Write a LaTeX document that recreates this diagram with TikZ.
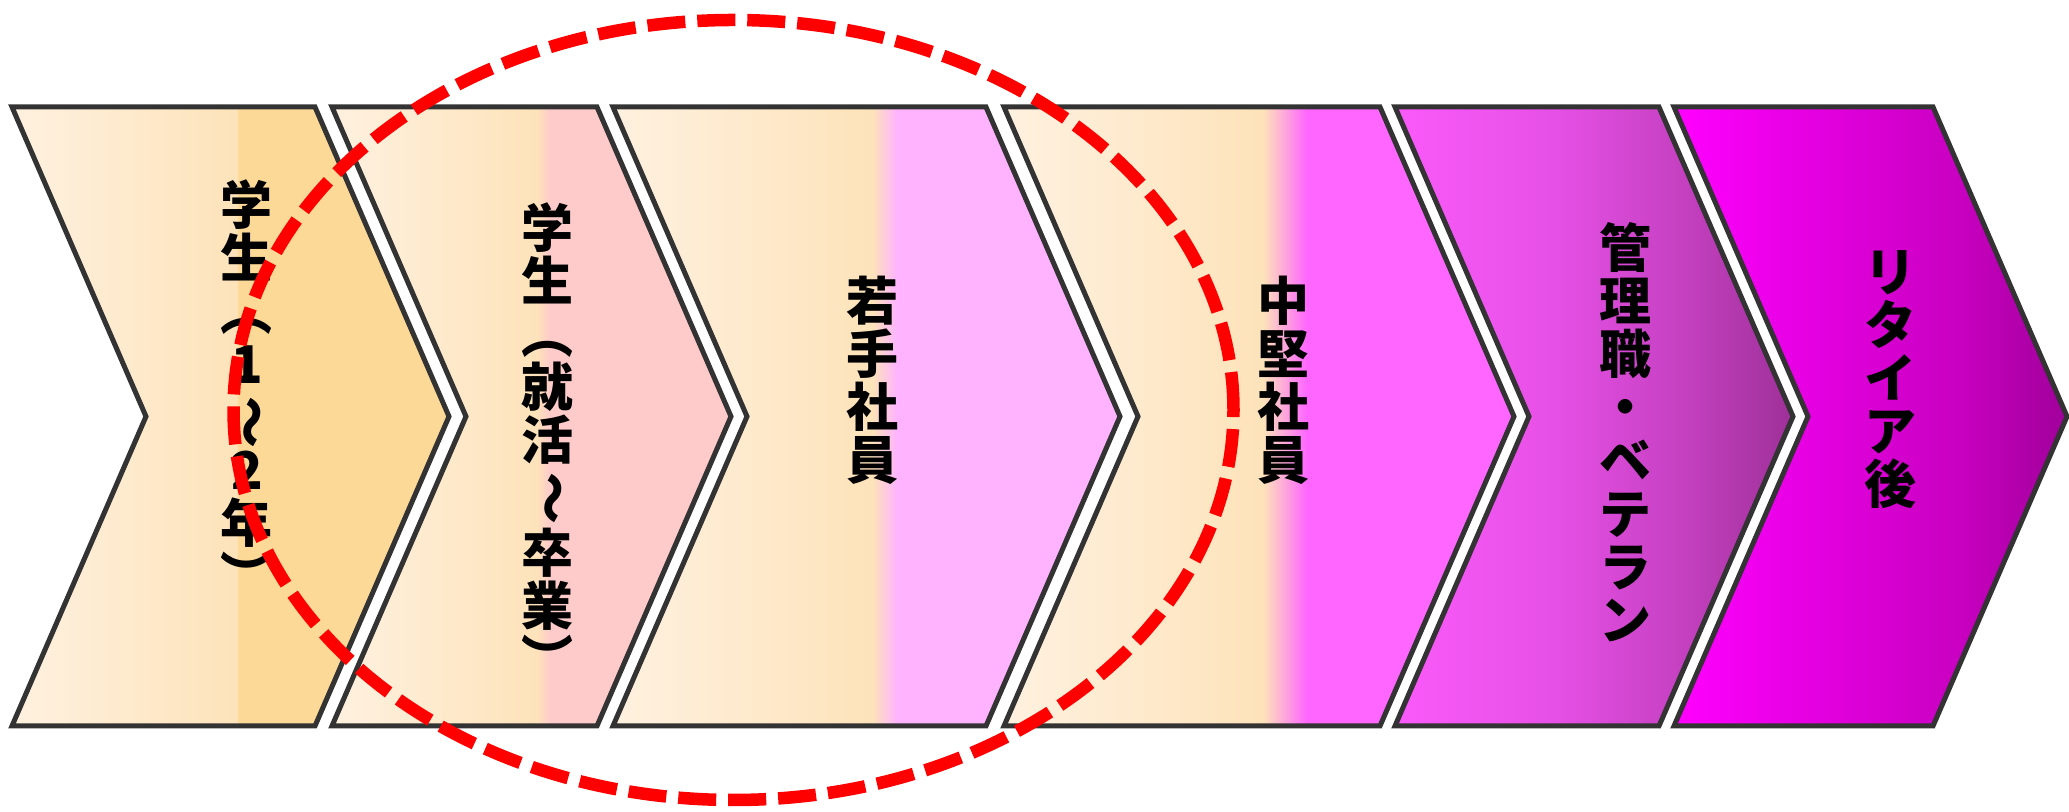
\documentclass[tikz,border=0pt]{standalone}
\usepackage{fontspec}
\newfontfamily\jpfont{Noto Sans CJK JP}
\usepackage{xcolor}
\usepackage{graphicx}
\usepackage{tikz}
\usetikzlibrary{positioning}
\definecolor{chevline}{HTML}{333333}
\definecolor{ovalred}{HTML}{FF0000}
\definecolor{cream}{HTML}{FFF1E0}
\definecolor{apricot}{HTML}{FDE3BA}
\definecolor{peach}{HTML}{FDD997}
\definecolor{rose}{HTML}{FECACA}
\definecolor{lilac}{HTML}{FFB3FF}
\definecolor{orchid}{HTML}{FF66FF}
\definecolor{violetA}{HTML}{FA5AFA}
\definecolor{violetB}{HTML}{E650E6}
\definecolor{violetC}{HTML}{C440C0}
\definecolor{violetD}{HTML}{9E3098}
\definecolor{magA}{HTML}{FF00FF}
\definecolor{magB}{HTML}{C800C0}
\definecolor{magC}{HTML}{A0009A}
\pgfdeclarehorizontalshading{shA}{100bp}{color(0bp)=(cream); color(25bp)=(cream); color(50.7bp)=(apricot); color(50.9bp)=(peach); color(100bp)=(peach)}
\pgfdeclarehorizontalshading{shB}{100bp}{color(0bp)=(cream); color(25bp)=(cream); color(50.7bp)=(apricot); color(52.3bp)=(rose); color(100bp)=(rose)}
\pgfdeclarehorizontalshading{shC}{100bp}{color(0bp)=(cream); color(25bp)=(cream); color(50.6bp)=(apricot); color(53bp)=(lilac); color(100bp)=(lilac)}
\pgfdeclarehorizontalshading{shD}{100bp}{color(0bp)=(cream); color(25bp)=(cream); color(50.4bp)=(apricot); color(54.7bp)=(orchid); color(100bp)=(orchid)}
\pgfdeclarehorizontalshading{shE}{100bp}{color(0bp)=(violetA); color(25bp)=(violetA); color(45bp)=(violetB); color(61.5bp)=(violetC); color(75bp)=(violetD); color(100bp)=(violetD)}
\pgfdeclarehorizontalshading{shF}{100bp}{color(0bp)=(magA); color(25bp)=(magA); color(61.5bp)=(magB); color(75bp)=(magC); color(100bp)=(magC)}
\newcommand{\wv}{\rotatebox[origin=c]{-90}{〜}}
\tikzset{
  chev/.style={draw=chevline,line width=0.05cm,line join=miter},
  lbl/.style={anchor=north,align=center,inner sep=0pt,text=black,
    font=\jpfont\bfseries\fontsize{14.8}{15.1}\selectfont},
  oval/.style={draw=ovalred,line width=0.125cm,dash pattern=on 0.38cm off 0.12cm},
}
\begin{document}
\begin{tikzpicture}
  \useasboundingbox (0,0) rectangle (20.69,8.12);
  % stages: left edge / top-right corner / shading
  \foreach \l/\r/\sh in {0.12/3.15/shA,3.32/5.97/shB,6.13/9.86/shC,10.04/13.80/shD,13.95/16.59/shE,16.74/19.33/shF}
    \shadedraw[chev,shading=\sh] (\l,7.05) -- (\r,7.05) -- (\r+1.34,3.955) -- (\r,0.86) -- (\l,0.86) -- (\l+1.34,3.955) -- cycle;

  \node[lbl] (gakusei)  at (2.47,6.33)  {学\\生\\︵\\1\\\wv\\2\\年\\︶};
  \node[lbl] (shukatsu) at (5.48,6.10)  {学\\生\\︵\\就\\活\\\wv\\卒\\業\\︶};
  \node[lbl] (wakate)   at (8.73,5.37)  {若\\手\\社\\員};
  \node[lbl] (chuken)   at (12.83,5.37) {中\\堅\\社\\員};
  \node[lbl] (kanri)    at (16.25,5.90) {管\\理\\職\\・\\ベ\\テ\\ラ\\ン};
  \node[lbl] (retire)   at (18.90,5.62) {リ\\タ\\イ\\ア\\後};

  % red dashed ring
  \draw[oval] (7.335,4.02) ellipse [x radius=5.0,y radius=3.9];
\end{tikzpicture}
\end{document}
